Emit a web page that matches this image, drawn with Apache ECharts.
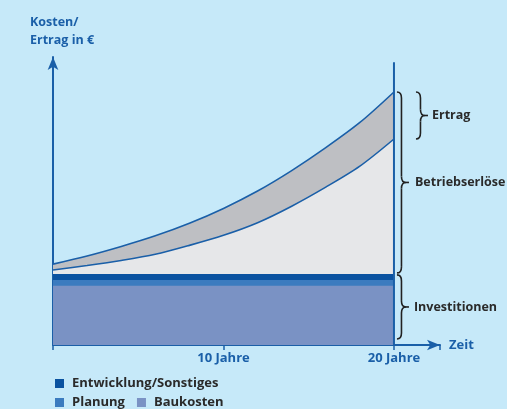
<!DOCTYPE html>
<html>
<head>
<meta charset="utf-8">
<script src="https://cdn.jsdelivr.net/npm/echarts@6/dist/echarts.min.js"></script>
<style>
html,body{margin:0;padding:0;background:#c6e9f9;}
#c{width:507px;height:409px;}
</style>
</head>
<body>
<div id="c"></div>
<script>
// ---- data ----
const years = [0, 2, 4, 6, 8, 10, 12, 14, 16, 18, 20];
const ertragTop = [28.9, 31.8, 35.2, 39.0, 43.5, 48.8, 55.0, 62.3, 70.5, 79.5, 90.4];
const betriebTop = [26.8, 28.4, 30.2, 32.4, 35.6, 39.2, 43.7, 49.6, 56.4, 63.9, 73.6];
const costNames = ['Baukosten', 'Planung', 'Entwicklung/Sonstiges'];
const costValues = [21.2, 2.0, 2.2];
const xTicks = [10, 20];
const tickSuffix = ' Jahre';

const BLUE = '#1a5fa8';
const DARK = '#2a2a2a';
const FONT = 'Open Sans';
const costColors = ['#7a92c4', '#3b7bbf', '#0a52a0'];

// cumulative tops of cost bands
const costTops = [];
let acc = 0;
costValues.forEach(v => { acc += v; costTops.push(+acc.toFixed(2)); });

const chart = echarts.init(document.getElementById('c'));

const series = [
  {
    name: 'Ertrag', type: 'line', smooth: 0.3, showSymbol: false, silent: true,
    data: years.map((y, i) => [y, ertragTop[i]]),
    lineStyle: { color: BLUE, width: 1.6 },
    areaStyle: { color: '#bebfc3', opacity: 1 }
  },
  {
    name: 'Betriebserlöse', type: 'line', smooth: 0.3, showSymbol: false, silent: true,
    data: years.map((y, i) => [y, betriebTop[i]]),
    lineStyle: { color: BLUE, width: 1.6 },
    areaStyle: { color: '#e6e7e9', opacity: 1 }
  }
];
for (let k = costNames.length - 1; k >= 0; k--) {
  series.push({
    name: costNames[k], type: 'line', showSymbol: false, silent: true,
    data: [[years[0], costTops[k]], [years[years.length - 1], costTops[k]]],
    lineStyle: { width: 0, color: costColors[k] },
    itemStyle: { color: costColors[k] },
    areaStyle: { color: costColors[k], opacity: 1 }
  });
}
series.push({
  name: 'v', type: 'line', showSymbol: false, silent: true,
  data: [[20, 0], [20, 101]],
  lineStyle: { color: BLUE, width: 2 }
});

const legendText = { fontSize: 13, fontWeight: 'bold', color: DARK, fontFamily: FONT, padding: [0, 0, 0, 3] };

chart.setOption({
  backgroundColor: '#c6e9f9',
  animation: false,
  title: {
    text: 'Kosten/\nErtrag in €', left: 30, top: 13, padding: 0,
    textStyle: { fontSize: 12.5, fontWeight: 'bold', color: BLUE, lineHeight: 18, fontFamily: FONT }
  },
  legend: [
    {
      data: [{ name: 'Entwicklung/Sonstiges', icon: 'rect' }],
      left: 50, top: 372, itemWidth: 9, itemHeight: 9, itemGap: 12,
      selectedMode: false, textStyle: legendText
    },
    {
      data: [{ name: 'Planung', icon: 'rect' }, { name: 'Baukosten', icon: 'rect' }],
      left: 50, top: 391, itemWidth: 9, itemHeight: 9, itemGap: 12,
      selectedMode: false, textStyle: legendText
    }
  ],
  grid: { left: 53, right: 67, top: 57, bottom: 64 },
  xAxis: {
    type: 'value', min: 0, max: 22.7, interval: 10,
    name: 'Zeit', nameGap: 9,
    nameTextStyle: { color: BLUE, fontWeight: 'bold', fontSize: 13, fontFamily: FONT },
    axisLine: { lineStyle: { color: BLUE, width: 2 }, symbol: ['none', 'arrow'], symbolSize: [8, 13] },
    axisTick: { show: true, length: 5, lineStyle: { color: BLUE, width: 1.5 } },
    axisLabel: {
      margin: 7, color: BLUE, fontWeight: 'bold', fontSize: 13, fontFamily: FONT,
      formatter: v => (xTicks.indexOf(v) >= 0 ? v + tickSuffix : '')
    },
    splitLine: { show: false }
  },
  yAxis: {
    type: 'value', min: 0, max: 102.9,
    axisLine: { show: true, lineStyle: { color: BLUE, width: 2 }, symbol: ['none', 'arrow'], symbolSize: [8, 13] },
    axisTick: { show: false }, axisLabel: { show: false }, splitLine: { show: false }
  },
  series: series
});

// braces and labels, built from primitive shapes
function px(x, y) { return chart.convertToPixel({ gridIndex: 0 }, [x, y]); }
const braceStyle = { stroke: '#222', lineWidth: 1.6, fill: null };
function brace(x0, x1, ya, yb) {
  const xm = (x0 + x1) / 2;
  const ym = (ya + yb) / 2;
  const r = Math.min(6, (yb - ya) / 4);
  const q = (sx, sy, cx, cy, ex, ey) => ({
    type: 'bezierCurve', silent: true,
    shape: { x1: sx, y1: sy, x2: ex, y2: ey, cpx1: cx, cpy1: cy },
    style: braceStyle
  });
  const l = (sx, sy, ex, ey) => ({
    type: 'line', silent: true,
    shape: { x1: sx, y1: sy, x2: ex, y2: ey },
    style: braceStyle
  });
  return [
    q(x0, ya, xm, ya, xm, ya + r),
    l(xm, ya + r, xm, ym - r),
    q(xm, ym - r, xm, ym, x1, ym),
    q(x1, ym, xm, ym, xm, ym + r),
    l(xm, ym + r, xm, yb - r),
    q(xm, yb - r, xm, yb, x0, yb),
    l(x1, ym, x1 + 3, ym)
  ];
}
const last = years.length - 1;
const pTopE = px(20, ertragTop[last]);
const pTopB = px(20, betriebTop[last]);
const pCost = px(20, costTops[costTops.length - 1]);
const p0 = px(20, 0);
const braces = [
  { x0: pTopE[0] + 22, x1: pTopE[0] + 31, ya: pTopE[1], yb: pTopB[1], label: 'Ertrag', gap: 7 },
  { x0: pTopE[0] + 3, x1: pTopE[0] + 12, ya: pTopE[1], yb: pCost[1] - 1, label: 'Betriebserlöse', gap: 9 },
  { x0: pTopE[0] + 3, x1: pTopE[0] + 12, ya: pCost[1] + 1, yb: p0[1] - 6, label: 'Investitionen', gap: 8 }
];
const elements = [];
braces.forEach(b => {
  brace(b.x0, b.x1, b.ya, b.yb).forEach(e => elements.push(e));
  elements.push({
    type: 'text', silent: true,
    x: b.x1 + b.gap, y: (b.ya + b.yb) / 2,
    style: {
      text: b.label, fill: DARK, fontSize: 12.5, fontWeight: 'bold', fontFamily: FONT,
      verticalAlign: 'middle', align: 'left'
    }
  });
});
chart.setOption({ graphic: { elements: elements } });
</script>
</body>
</html>
